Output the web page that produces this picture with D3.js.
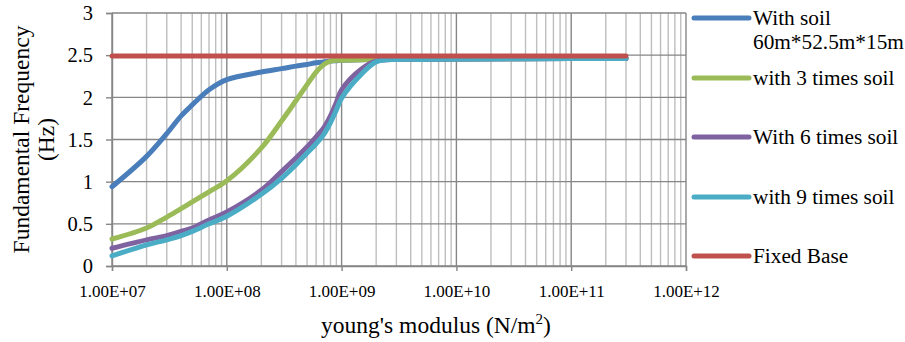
<!DOCTYPE html>
<html>
<head>
<meta charset="utf-8">
<script src="https://cdn.jsdelivr.net/npm/d3@7"></script>
<style>
  html, body { margin: 0; padding: 0; background: #fff; }
</style>
</head>
<body>
<svg id="chart" width="905" height="342"></svg>
<script>
// ---- data ----
const modulus = [1e7, 2e7, 3e7, 4e7, 5e7, 7e7, 1e8, 2e8, 3e8, 4e8, 5e8, 6e8, 7e8, 8e8, 9e8, 1e9, 1.5e9, 2e9, 3e9, 5e9, 1e10, 1e11, 3e11];
const withSoil   = [0.94, 1.30, 1.57, 1.78, 1.91, 2.09, 2.21, 2.30, 2.34, 2.37, 2.39, 2.41, 2.42, 2.43, 2.435, 2.44, 2.445, 2.45, 2.45, 2.45, 2.455, 2.46, 2.46];
const soil3      = [0.32, 0.45, 0.58, 0.68, 0.76, 0.88, 1.01, 1.40, 1.72, 1.96, 2.15, 2.30, 2.39, 2.43, 2.44, 2.44, 2.445, 2.45, 2.45, 2.45, 2.455, 2.46, 2.46];
const soil6      = [0.21, 0.31, 0.36, 0.41, 0.45, 0.545, 0.64, 0.90, 1.12, 1.28, 1.41, 1.53, 1.64, 1.78, 1.94, 2.09, 2.34, 2.43, 2.45, 2.45, 2.455, 2.46, 2.46];
const soil9      = [0.12, 0.25, 0.31, 0.36, 0.41, 0.50, 0.59, 0.85, 1.04, 1.20, 1.34, 1.45, 1.56, 1.70, 1.85, 1.99, 2.28, 2.42, 2.45, 2.45, 2.455, 2.46, 2.46];
const fixedModulus = [1e7, 3e11];
const fixedBase    = [2.49, 2.49];

const seriesNames = ["With soil|60m*52.5m*15m", "with 3 times soil", "With 6 times soil", "with 9 times soil", "Fixed Base"];
const seriesColors = ["#4A7EBB", "#9BBB59", "#7F63A1", "#4BACC6", "#C0504D"];

const xTickValues = [1e7, 1e8, 1e9, 1e10, 1e11, 1e12];
const yTickValues = [0, 0.5, 1, 1.5, 2, 2.5, 3];
const xTitle = "young's modulus (N/m";
const yTitleLines = ["Fundamental Frequency", "(Hz)"];

// ---- layout ----
const FONT = "Liberation Serif";
const svg = d3.select("#chart");
const L = 112, R = 686, T = 13, B = 266;
const x = d3.scaleLog().domain([1e7, 1e12]).range([L, R]);
const y = d3.scaleLinear().domain([0, 3]).range([B, T]);

function serif(sel) {
  return sel.attr("font-family", FONT).style("font-family", `'${FONT}'`);
}

// minor vertical gridlines
const minor = [];
for (let e = 7; e < 12; e++) for (let k = 2; k <= 9; k++) minor.push(k * Math.pow(10, e));
svg.append("g").selectAll("line").data(minor).join("line")
  .attr("x1", d => x(d)).attr("x2", d => x(d))
  .attr("y1", T).attr("y2", B)
  .attr("stroke", "#BEBEBE").attr("stroke-width", 1.4);

// major horizontal gridlines
svg.append("g").selectAll("line").data(yTickValues).join("line")
  .attr("x1", L).attr("x2", R)
  .attr("y1", d => y(d)).attr("y2", d => y(d))
  .attr("stroke", "#868686").attr("stroke-width", 1.4);

// major vertical gridlines
svg.append("g").selectAll("line").data(xTickValues).join("line")
  .attr("x1", d => x(d)).attr("x2", d => x(d))
  .attr("y1", T).attr("y2", B)
  .attr("stroke", "#868686").attr("stroke-width", 1.4);

// axes
const yAxis = d3.axisLeft(y).tickValues(yTickValues).tickSize(6).tickPadding(13)
  .tickFormat(d => d3.format("")(d));
const gy = svg.append("g").attr("transform", `translate(${L},0)`).call(yAxis);
serif(gy);
gy.select(".domain").attr("stroke", "#868686").attr("stroke-width", 1.4);
gy.selectAll(".tick line").attr("stroke", "#868686").attr("stroke-width", 1.4);
serif(gy.selectAll(".tick text")).attr("font-size", 20.5).attr("fill", "#000").attr("dy", "0.33em");

const xAxis = d3.axisBottom(x).tickValues(xTickValues).tickSize(5).tickPadding(10)
  .tickFormat(d => d3.format(".2e")(d).replace("e+", "E+").replace(/E\+(\d)$/, "E+0$1"));
const gx = svg.append("g").attr("transform", `translate(0,${B})`).call(xAxis);
serif(gx);
gx.select(".domain").attr("stroke", "#868686").attr("stroke-width", 1.4);
gx.selectAll(".tick line").attr("stroke", "#868686").attr("stroke-width", 1.4);
serif(gx.selectAll(".tick text")).attr("font-size", 17).attr("fill", "#000")
  .attr("y", 31).attr("dy", 0);

// series
const allSeries = [
  { xs: modulus, ys: withSoil },
  { xs: modulus, ys: soil3 },
  { xs: modulus, ys: soil6 },
  { xs: modulus, ys: soil9 },
  { xs: fixedModulus, ys: fixedBase }
];
const line = d3.line().curve(d3.curveCatmullRom.alpha(0.5)).x(d => x(d[0])).y(d => y(d[1]));
svg.append("g").selectAll("path").data(allSeries).join("path")
  .attr("d", s => line(s.xs.map((v, i) => [v, s.ys[i]])))
  .attr("fill", "none")
  .attr("stroke", (s, i) => seriesColors[i])
  .attr("stroke-width", 5)
  .attr("stroke-linecap", "round")
  .attr("stroke-linejoin", "round");

// legend
const legY = [18, 78, 137, 197, 256];
const leg = svg.append("g");
seriesNames.forEach((name, i) => {
  leg.append("line")
    .attr("x1", 694).attr("x2", 749)
    .attr("y1", legY[i]).attr("y2", legY[i])
    .attr("stroke", seriesColors[i]).attr("stroke-width", 5).attr("stroke-linecap", "round");
  const parts = name.split("|");
  parts.forEach((p, j) => {
    serif(leg.append("text"))
      .attr("x", 753).attr("y", legY[i] + 7 + j * 24)
      .attr("font-size", 21.3).attr("fill", "#000")
      .text(p);
  });
});

// axis titles
const xt = serif(svg.append("text"))
  .attr("x", 436).attr("y", 333)
  .attr("text-anchor", "middle").attr("font-size", 23.5).attr("fill", "#000");
xt.append("tspan").text(xTitle);
xt.append("tspan").attr("font-size", 15).attr("dy", -9).text("2");
xt.append("tspan").attr("dy", 9).text(")");

const yt = serif(svg.append("text"))
  .attr("transform", `translate(29,${(T + B) / 2}) rotate(-90)`)
  .attr("text-anchor", "middle").attr("font-size", 23.5).attr("fill", "#000");
yTitleLines.forEach((t, i) => {
  yt.append("tspan").attr("x", 0).attr("dy", i === 0 ? 0 : 25).text(t);
});
</script>
</body>
</html>
